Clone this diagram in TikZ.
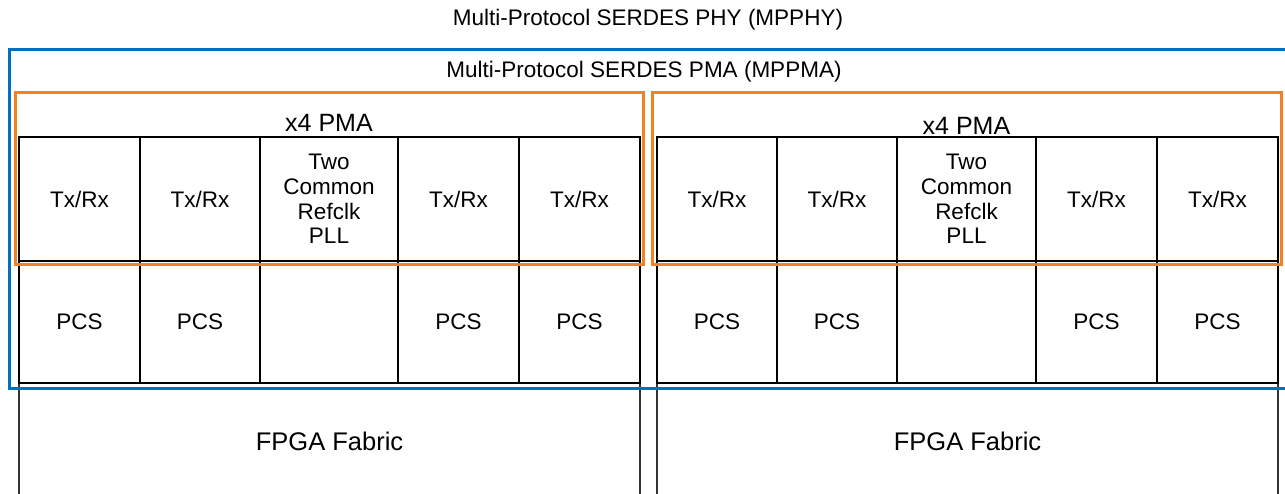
\documentclass[tikz,border=0pt]{standalone}
\usepackage{fontspec}
\setmainfont{Liberation Sans}
\definecolor{phyblue}{RGB}{0,112,192}
\definecolor{pmaorange}{RGB}{245,130,32}
\begin{document}
\begin{tikzpicture}[x=1pt,y=-1pt,
  txt/.style={font=\fontsize{22.5}{24.6}\selectfont, inner sep=0pt, align=center},
  bigtxt/.style={txt, font=\fontsize{25.5}{28}\selectfont},
  cell/.style={txt, draw=black, line width=1.3pt, rectangle},
  fabric/.style={bigtxt, draw=black!80, line width=1.1pt, rectangle},
  phybox/.style={draw=phyblue, line width=3pt, rectangle, inner sep=0pt},
  pmabox/.style={draw=pmaorange, line width=3pt, rectangle, inner sep=0pt}]
\useasboundingbox (0,0) rectangle (1285,494);
\clip (0,0) rectangle (1285,494);

% FPGA fabric below each quad
\node[fabric, minimum width=621pt, minimum height=116pt] (fabL) at (329.5,441) {FPGA Fabric};
\node[fabric, minimum width=621pt, minimum height=116pt] (fabR) at (967.5,441) {FPGA Fabric};

% left quad: transceivers and PCS
\node[cell, minimum width=121pt, minimum height=124pt] (txL1) at (79.5,199) {Tx/Rx};
\node[cell, minimum width=120pt, minimum height=124pt] (txL2) at (200,199) {Tx/Rx};
\node[cell, minimum width=138pt, minimum height=124pt] (pllL) at (329,199) {Two\\Common\\Refclk\\PLL};
\node[cell, minimum width=121pt, minimum height=124pt] (txL3) at (458.5,199) {Tx/Rx};
\node[cell, minimum width=121pt, minimum height=124pt] (txL4) at (579.5,199) {Tx/Rx};
\node[cell, minimum width=121pt, minimum height=122pt] (pcsL1) at (79.5,322) {PCS};
\node[cell, minimum width=120pt, minimum height=122pt] (pcsL2) at (200,322) {PCS};
\node[cell, minimum width=138pt, minimum height=122pt] (pcsL0) at (329,322) {};
\node[cell, minimum width=121pt, minimum height=122pt] (pcsL3) at (458.5,322) {PCS};
\node[cell, minimum width=121pt, minimum height=122pt] (pcsL4) at (579.5,322) {PCS};

% right quad: transceivers and PCS
\node[cell, minimum width=120pt, minimum height=124pt] (txR1) at (717,199) {Tx/Rx};
\node[cell, minimum width=120pt, minimum height=124pt] (txR2) at (837,199) {Tx/Rx};
\node[cell, minimum width=139pt, minimum height=124pt] (pllR) at (966.5,199) {Two\\Common\\Refclk\\PLL};
\node[cell, minimum width=121pt, minimum height=124pt] (txR3) at (1096.5,199) {Tx/Rx};
\node[cell, minimum width=121pt, minimum height=124pt] (txR4) at (1217.5,199) {Tx/Rx};
\node[cell, minimum width=120pt, minimum height=122pt] (pcsR1) at (717,322) {PCS};
\node[cell, minimum width=120pt, minimum height=122pt] (pcsR2) at (837,322) {PCS};
\node[cell, minimum width=139pt, minimum height=122pt] (pcsR0) at (966.5,322) {};
\node[cell, minimum width=121pt, minimum height=122pt] (pcsR3) at (1096.5,322) {PCS};
\node[cell, minimum width=121pt, minimum height=122pt] (pcsR4) at (1217.5,322) {PCS};

% PMA quads
\node[pmabox, minimum width=628pt, minimum height=172pt] (pmaL) at (329,179) {};
\node[pmabox, minimum width=629pt, minimum height=172pt] (pmaR) at (966.5,179) {};
\node[txt, font=\fontsize{25}{28}\selectfont] (pmaLlab) at (329,123) {x4 PMA};
\node[txt, font=\fontsize{25}{28}\selectfont] (pmaRlab) at (966.5,126) {x4 PMA};

% PMA and PHY enclosures
\node[phybox, minimum width=1281pt, minimum height=338pt] (phy) at (649.5,219) {};
\node[txt] (mppma) at (644,72) {Multi-Protocol SERDES PMA (MPPMA)};
\node[txt] (mpphy) at (648,20) {Multi-Protocol SERDES PHY (MPPHY)};
\end{tikzpicture}
\end{document}
